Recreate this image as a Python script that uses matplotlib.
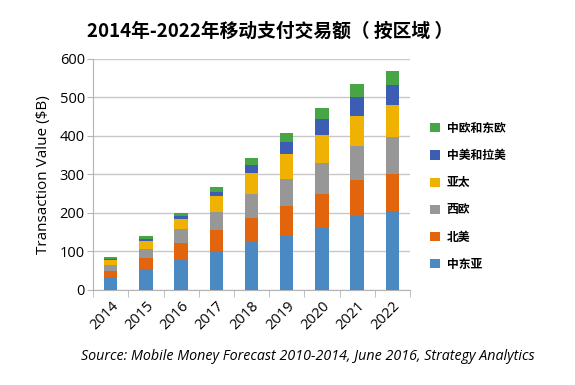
import numpy as np
import matplotlib
matplotlib.use('Agg')
import matplotlib.pyplot as plt
from matplotlib.ticker import MultipleLocator, FixedLocator

plt.rcParams['font.family'] = ['Open Sans', 'Noto Sans CJK SC', 'DejaVu Sans']

years = ['2014', '2015', '2016', '2017', '2018', '2019', '2020', '2021', '2022']
regions = ['中东亚', '北美', '西欧', '亚太', '中美和拉美', '中欧和东欧']
colors = ['#4a89c2', '#e2640c', '#979797', '#efb102', '#3b5db3', '#48a546']

mid_east_asia = [34, 55, 78, 100, 124, 141, 161, 193, 204]
north_america = [15, 28, 43, 55, 64, 77, 87, 92, 98]
west_europe = [15, 23, 36, 47, 60, 71, 82, 89, 96]
asia_pacific = [13, 21, 27, 42, 56, 63, 72, 78, 83]
latin_america = [3, 4, 8, 11, 21, 33, 41, 48, 52]
east_europe = [5, 8, 9, 13, 17, 23, 29, 36, 36]

series = [mid_east_asia, north_america, west_europe, asia_pacific, latin_america, east_europe]

fig = plt.figure(figsize=(5.75, 3.85), dpi=100)
ax = fig.add_axes([0.162, 0.247, 0.551, 0.6])

x = np.arange(len(years))
bottom = np.zeros(len(years))
handles = []
for vals, col, name in zip(series, colors, regions):
    b = ax.bar(x, vals, width=0.38, bottom=bottom, color=col, label=name, zorder=3)
    handles.append(b)
    bottom += np.array(vals)

ax.set_ylim(0, 600)
ax.set_xlim(-0.5, len(years) - 0.5)
ax.yaxis.set_major_locator(MultipleLocator(100))
ax.grid(axis='y', color='#c8c8c8', linewidth=1, zorder=0)
for s in ['top', 'right']:
    ax.spines[s].set_visible(False)
ax.spines['left'].set_color('#b4b4b4')
ax.spines['bottom'].set_color('#b4b4b4')
ax.tick_params(axis='y', length=4, color='#b4b4b4', labelsize=10.5, pad=2)
ax.set_xticks(x)
ax.set_xticklabels(years, rotation=45, ha='right', rotation_mode='anchor', fontsize=10.5)
ax.tick_params(axis='x', which='major', length=0, pad=6)
ax.xaxis.set_minor_locator(FixedLocator(np.arange(-0.5, len(years), 1)))
ax.tick_params(axis='x', which='minor', length=5, color='#b4b4b4')
ax.set_ylabel('Transaction Value ($B)', fontsize=11, labelpad=6)

leg = ax.legend(handles[::-1], regions[::-1], loc='center left', bbox_to_anchor=(1.03, 0.405),
                frameon=False, handlelength=0.8, handleheight=0.8,
                labelspacing=1.2, handletextpad=0.6,
                prop={'family': ['Noto Sans CJK SC', 'DejaVu Sans'], 'size': 8.5, 'weight': 'bold'})

fig.text(0.47, 0.92, '2014年-2022年移动支付交易额（ 按区域 ）', ha='center', va='center',
         fontsize=13.5, fontweight='bold', family=['Noto Sans CJK SC', 'DejaVu Sans'])
fig.text(0.536, 0.073, 'Source: Mobile Money Forecast 2010-2014, June 2016, Strategy Analytics',
         ha='center', va='center', fontsize=10.3, style='italic')

fig.savefig('out.png', dpi=100)
